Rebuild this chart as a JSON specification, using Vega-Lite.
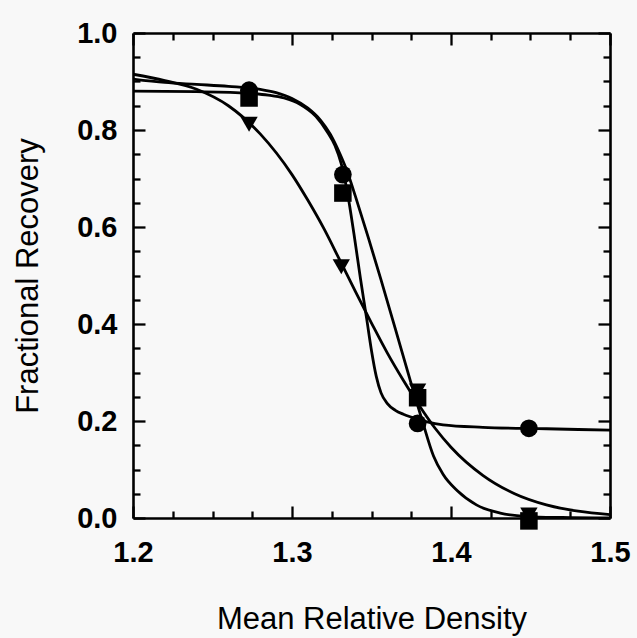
{
  "$schema": "https://vega.github.io/schema/vega-lite/v6.json",
  "width": 477,
  "height": 485,
  "autosize": "none",
  "padding": {"left": 133, "top": 33, "right": 27, "bottom": 120},
  "background": "#f8f8f8",
  "config": {
    "view": {"stroke": null},
    "font": "Liberation Sans",
    "axis": {
      "domainColor": "black",
      "domainWidth": 2.6,
      "tickColor": "black",
      "tickWidth": 2.3,
      "grid": false,
      "labelColor": "black",
      "titleColor": "black",
      "labelFont": "Liberation Sans",
      "titleFont": "Liberation Sans",
      "labelFontSize": 29,
      "labelFontWeight": "bold",
      "titleFontSize": 31,
      "titleFontWeight": "normal"
    }
  },
  "datasets": {
    "curves": [
      {"curve": "T", "x": 1.20, "y": 0.915},
      {"curve": "T", "x": 1.22, "y": 0.902},
      {"curve": "T", "x": 1.24, "y": 0.884},
      {"curve": "T", "x": 1.26, "y": 0.850},
      {"curve": "T", "x": 1.28, "y": 0.792},
      {"curve": "T", "x": 1.30, "y": 0.708},
      {"curve": "T", "x": 1.31, "y": 0.655},
      {"curve": "T", "x": 1.32, "y": 0.597},
      {"curve": "T", "x": 1.33, "y": 0.532},
      {"curve": "T", "x": 1.34, "y": 0.466},
      {"curve": "T", "x": 1.35, "y": 0.402},
      {"curve": "T", "x": 1.36, "y": 0.340},
      {"curve": "T", "x": 1.37, "y": 0.284},
      {"curve": "T", "x": 1.38, "y": 0.232},
      {"curve": "T", "x": 1.39, "y": 0.185},
      {"curve": "T", "x": 1.40, "y": 0.146},
      {"curve": "T", "x": 1.42, "y": 0.088},
      {"curve": "T", "x": 1.44, "y": 0.050},
      {"curve": "T", "x": 1.46, "y": 0.027},
      {"curve": "T", "x": 1.48, "y": 0.014},
      {"curve": "T", "x": 1.50, "y": 0.007},
      {"curve": "S", "x": 1.200, "y": 0.905},
      {"curve": "S", "x": 1.220, "y": 0.898},
      {"curve": "S", "x": 1.240, "y": 0.894},
      {"curve": "S", "x": 1.260, "y": 0.890},
      {"curve": "S", "x": 1.280, "y": 0.884},
      {"curve": "S", "x": 1.290, "y": 0.877},
      {"curve": "S", "x": 1.300, "y": 0.865},
      {"curve": "S", "x": 1.310, "y": 0.845},
      {"curve": "S", "x": 1.318, "y": 0.820},
      {"curve": "S", "x": 1.324, "y": 0.792},
      {"curve": "S", "x": 1.330, "y": 0.752},
      {"curve": "S", "x": 1.335, "y": 0.712},
      {"curve": "S", "x": 1.340, "y": 0.662},
      {"curve": "S", "x": 1.348, "y": 0.578},
      {"curve": "S", "x": 1.356, "y": 0.491},
      {"curve": "S", "x": 1.365, "y": 0.390},
      {"curve": "S", "x": 1.374, "y": 0.288},
      {"curve": "S", "x": 1.382, "y": 0.200},
      {"curve": "S", "x": 1.389, "y": 0.128},
      {"curve": "S", "x": 1.395, "y": 0.090},
      {"curve": "S", "x": 1.404, "y": 0.056},
      {"curve": "S", "x": 1.416, "y": 0.027},
      {"curve": "S", "x": 1.431, "y": 0.010},
      {"curve": "S", "x": 1.448, "y": 0.003},
      {"curve": "S", "x": 1.470, "y": 0.001},
      {"curve": "S", "x": 1.500, "y": 0.000},
      {"curve": "P", "x": 1.200, "y": 0.880},
      {"curve": "P", "x": 1.240, "y": 0.879},
      {"curve": "P", "x": 1.270, "y": 0.876},
      {"curve": "P", "x": 1.285, "y": 0.872},
      {"curve": "P", "x": 1.295, "y": 0.866},
      {"curve": "P", "x": 1.305, "y": 0.853},
      {"curve": "P", "x": 1.315, "y": 0.828},
      {"curve": "P", "x": 1.322, "y": 0.797},
      {"curve": "P", "x": 1.327, "y": 0.768},
      {"curve": "P", "x": 1.331, "y": 0.730},
      {"curve": "P", "x": 1.335, "y": 0.668},
      {"curve": "P", "x": 1.339, "y": 0.585},
      {"curve": "P", "x": 1.343, "y": 0.495},
      {"curve": "P", "x": 1.347, "y": 0.410},
      {"curve": "P", "x": 1.350, "y": 0.345},
      {"curve": "P", "x": 1.353, "y": 0.292},
      {"curve": "P", "x": 1.356, "y": 0.258},
      {"curve": "P", "x": 1.360, "y": 0.236},
      {"curve": "P", "x": 1.365, "y": 0.222},
      {"curve": "P", "x": 1.370, "y": 0.214},
      {"curve": "P", "x": 1.376, "y": 0.207},
      {"curve": "P", "x": 1.385, "y": 0.198},
      {"curve": "P", "x": 1.395, "y": 0.192},
      {"curve": "P", "x": 1.420, "y": 0.187},
      {"curve": "P", "x": 1.460, "y": 0.184},
      {"curve": "P", "x": 1.500, "y": 0.181}
    ],
    "points": [
      {"series": "circle", "x": 1.273, "y": 0.882},
      {"series": "circle", "x": 1.332, "y": 0.708},
      {"series": "circle", "x": 1.379, "y": 0.195},
      {"series": "circle", "x": 1.449, "y": 0.185},
      {"series": "square", "x": 1.273, "y": 0.866},
      {"series": "square", "x": 1.332, "y": 0.670},
      {"series": "square", "x": 1.379, "y": 0.248},
      {"series": "square", "x": 1.449, "y": -0.006},
      {"series": "triangle", "x": 1.273, "y": 0.812},
      {"series": "triangle", "x": 1.331, "y": 0.518},
      {"series": "triangle", "x": 1.379, "y": 0.262},
      {"series": "triangle", "x": 1.449, "y": 0.006}
    ]
  },
  "layer": [
    {
      "data": {"name": "curves"},
      "mark": {"type": "line", "interpolate": "monotone", "color": "black", "strokeWidth": 2.8, "clip": true},
      "encoding": {
        "x": {
          "field": "x", "type": "quantitative",
          "scale": {"domain": [1.2, 1.5], "nice": false, "zero": false},
          "axis": {
            "orient": "bottom",
            "values": [1.2, 1.225, 1.25, 1.275, 1.3, 1.325, 1.35, 1.375, 1.4, 1.425, 1.45, 1.475, 1.5],
            "labelExpr": "abs(datum.value*10 - round(datum.value*10)) < 0.001 ? format(datum.value, '.1f') : ''",
            "tickSize": {"condition": {"test": "abs(datum.value*10 - round(datum.value*10)) < 0.001", "value": -12}, "value": -7},
            "labelPadding": 32,
            "labelFlush": false,
            "labelOverlap": false,
            "title": "Mean Relative Density",
            "titlePadding": 32
          }
        },
        "y": {
          "field": "y", "type": "quantitative",
          "scale": {"domain": [0, 1], "nice": false, "zero": false},
          "axis": {
            "orient": "left",
            "values": [0, 0.05, 0.1, 0.15, 0.2, 0.25, 0.3, 0.35, 0.4, 0.45, 0.5, 0.55, 0.6, 0.65, 0.7, 0.75, 0.8, 0.85, 0.9, 0.95, 1.0],
            "labelExpr": "abs(datum.value*5 - round(datum.value*5)) < 0.001 ? format(datum.value, '.1f') : ''",
            "tickSize": {"condition": {"test": "abs(datum.value*5 - round(datum.value*5)) < 0.001", "value": -12}, "value": -7},
            "labelPadding": 28,
            "labelFlush": false,
            "labelOverlap": false,
            "title": "Fractional Recovery",
            "titlePadding": 32
          }
        },
        "detail": {"field": "curve"}
      }
    },
    {
      "data": {"name": "points"},
      "mark": {"type": "point", "filled": true, "color": "black", "opacity": 1, "clip": false},
      "encoding": {
        "x": {
          "field": "x", "type": "quantitative",
          "axis": {
            "orient": "top",
            "values": [1.2, 1.225, 1.25, 1.275, 1.3, 1.325, 1.35, 1.375, 1.4, 1.425, 1.45, 1.475, 1.5],
            "labels": false,
            "title": null,
            "tickSize": {"condition": {"test": "abs(datum.value*10 - round(datum.value*10)) < 0.001", "value": -12}, "value": -7}
          }
        },
        "y": {
          "field": "y", "type": "quantitative",
          "axis": {
            "orient": "right",
            "values": [0, 0.05, 0.1, 0.15, 0.2, 0.25, 0.3, 0.35, 0.4, 0.45, 0.5, 0.55, 0.6, 0.65, 0.7, 0.75, 0.8, 0.85, 0.9, 0.95, 1.0],
            "labels": false,
            "title": null,
            "tickSize": {"condition": {"test": "abs(datum.value*5 - round(datum.value*5)) < 0.001", "value": -12}, "value": -7}
          }
        },
        "shape": {
          "field": "series", "type": "nominal",
          "scale": {"domain": ["circle", "square", "triangle"], "range": ["circle", "square", "triangle-down"]},
          "legend": null
        },
        "size": {
          "field": "series", "type": "nominal",
          "scale": {"domain": ["circle", "square", "triangle"], "range": [314, 300, 420]},
          "legend": null
        }
      }
    }
  ],
  "resolve": {"axis": {"x": "independent", "y": "independent"}}
}
